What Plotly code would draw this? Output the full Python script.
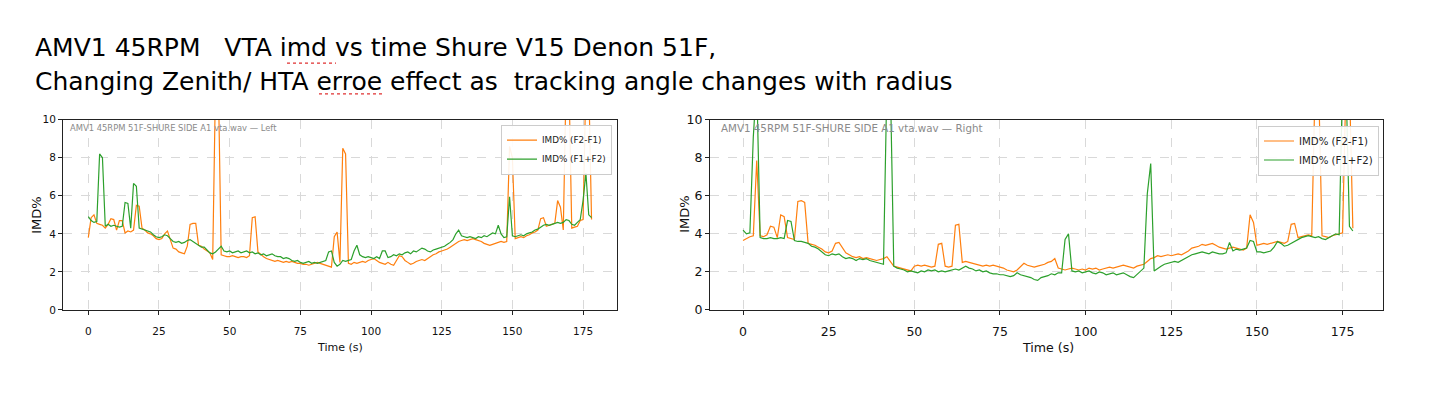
import plotly.graph_objects as go

# ---------------- data ----------------
TIME = list(range(179))  # seconds

LEFT_F2_F1 = [3.8, 4.85, 5.0, 4.55, 4.5, 4.45, 4.3, 4.5, 4.8, 4.75, 4.2, 4.7, 4.7, 4.05, 4.15, 4.1, 4.2, 5.5, 5.45, 4.3,
              4.2, 4.05, 4.0, 3.9, 3.75, 3.7, 3.75, 4.0, 4.15, 3.7, 3.25, 3.2, 3.05, 3.0, 2.95, 3.35, 4.5, 4.55, 4.55, 3.4,
              3.35, 3.2, 3.1, 3.0, 2.65, 12, 12, 2.9, 2.85, 2.8, 2.8, 2.85, 2.8, 2.75, 2.8, 2.8, 2.75, 2.85, 4.85, 4.9,
              3.05, 2.9, 2.8, 2.7, 2.65, 2.6, 2.55, 2.6, 2.55, 2.5, 2.55, 2.5, 2.55, 2.5, 2.45, 2.45, 2.4, 2.4, 2.35, 2.4,
              2.45, 2.5, 2.45, 2.4, 2.35, 2.3, 2.25, 3.85, 4.1, 2.5, 8.5, 8.2, 2.45, 2.4, 2.5, 2.45, 2.5, 2.55, 2.5, 2.6,
              2.65, 2.7, 2.6, 2.5, 2.45, 2.4, 2.5, 2.4, 2.35, 2.6, 2.85, 2.8, 2.6, 2.5, 2.4, 2.45, 2.55, 2.6, 2.65, 2.6,
              2.7, 2.8, 2.9, 2.95, 3.05, 3.1, 3.15, 3.2, 3.3, 3.4, 3.5, 3.6, 3.65, 3.7, 3.65, 3.7, 3.75, 3.7, 3.65, 3.6,
              3.5, 3.45, 3.4, 3.45, 3.5, 3.55, 3.6, 3.55, 3.6, 8.6, 8.0, 3.75, 3.8, 3.85, 3.8, 3.9, 3.95, 4.05, 4.1, 4.2,
              4.8, 4.85, 4.4, 4.45, 4.5, 4.55, 5.75, 5.4, 4.2, 12, 12, 4.3, 4.35, 4.4, 4.7, 4.75, 12, 12, 4.75]

LEFT_F1_F2 = [4.9, 4.7, 4.6, 4.65, 8.2, 8.0, 4.4, 4.5, 4.4, 4.45, 4.4, 4.35, 4.4, 5.65, 5.6, 4.3, 6.65, 6.5, 4.3, 4.25,
              4.2, 4.15, 4.1, 3.95, 3.85, 3.8, 3.85, 3.95, 3.9, 3.75, 3.6, 3.55, 3.6, 3.5, 3.55, 3.65, 3.7, 3.6, 3.5, 3.4,
              3.3, 3.3, 3.15, 3.0, 2.95, 3.05, 3.2, 3.35, 3.1, 3.05, 3.1, 3.0, 3.05, 3.1, 3.0, 3.05, 3.1, 3.0, 3.05, 2.95,
              3.0, 2.9, 2.95, 2.85, 2.9, 2.95, 2.85, 2.8, 2.8, 2.7, 2.75, 2.7, 2.6, 2.55, 2.6, 2.5, 2.45, 2.5, 2.55, 2.45,
              2.5, 2.45, 2.5, 2.55, 2.6, 3.05, 3.1, 2.5, 2.3, 2.4, 2.6, 2.55, 2.6, 2.65, 3.1, 3.4, 2.9, 2.8, 2.75, 2.8,
              2.75, 2.7, 2.8, 2.7, 3.1, 3.1, 2.75, 2.8, 2.9, 2.85, 2.95, 2.9, 3.0, 3.05, 2.95, 3.1, 3.05, 3.15, 3.25, 3.2,
              3.1, 3.05, 3.15, 3.2, 3.25, 3.3, 3.35, 3.45, 3.55, 3.7, 4.0, 4.2, 3.9, 3.85, 3.8, 3.85, 3.8, 3.75, 3.85, 3.8,
              3.9, 3.85, 3.95, 4.05, 4.0, 4.45, 4.0, 3.8, 3.85, 5.95, 3.9, 3.85, 3.9, 3.95, 3.9, 4.0, 4.05, 4.1, 4.2, 4.25,
              4.35, 4.45, 4.5, 4.45, 4.5, 4.55, 4.6, 4.55, 4.6, 4.75, 4.7, 4.5, 4.45, 4.6, 4.75, 5.75, 7.2, 5.0, 4.85]

RIGHT_F2_F1 = [3.65, 3.75, 3.85, 3.9, 7.85, 3.9, 3.85, 3.95, 4.4, 4.35, 3.8, 5.0, 4.9, 3.8, 3.75, 3.7, 5.7, 5.75, 5.65, 3.5,
               3.45, 3.4, 3.3, 3.2, 3.05, 3.0, 3.1, 3.5, 3.55, 3.3, 3.0, 2.9, 2.8, 2.75, 2.8, 2.7, 2.75, 2.7, 2.65, 2.6,
               2.65, 2.7, 2.8, 2.55, 2.3, 2.25, 2.2, 2.15, 2.1, 2.05, 2.3, 2.35, 2.3, 2.35, 2.3, 2.25, 2.3, 3.45, 3.5, 2.3,
               2.25, 2.3, 4.45, 4.5, 2.5, 2.55, 2.5, 2.45, 2.4, 2.35, 2.3, 2.35, 2.3, 2.35, 2.3, 2.25, 2.2, 2.1, 2.05, 2.0,
               2.1, 2.3, 2.45, 2.35, 2.3, 2.25, 2.3, 2.35, 2.4, 2.5, 2.55, 2.7, 2.2, 2.15, 2.1, 2.15, 2.2, 2.15, 2.1, 2.15,
               2.1, 2.2, 2.15, 2.2, 2.1, 2.15, 2.2, 2.25, 2.2, 2.25, 2.3, 2.35, 2.3, 2.25, 2.2, 2.3, 2.35, 2.4, 2.55, 2.7,
               2.75, 2.85, 2.8, 2.85, 2.9, 2.85, 2.9, 2.95, 2.9, 3.0, 3.1, 3.25, 3.3, 3.35, 3.45, 3.4, 3.45, 3.5, 3.4, 3.3,
               3.25, 3.2, 3.25, 3.3, 3.25, 3.2, 3.15, 3.25, 5.0, 4.6, 3.4, 3.45, 3.5, 3.45, 3.5, 3.55, 3.6, 3.55, 3.5, 3.6,
               4.5, 4.55, 3.8, 3.85, 3.9, 3.95, 3.9, 12, 12, 3.9, 3.85, 3.8, 3.9, 3.95, 4.0, 4.05, 12, 12, 4.3]

RIGHT_F1_F2 = [4.2, 4.0, 4.05, 9.1, 12, 3.8, 3.75, 3.75, 3.8, 3.75, 3.75, 3.8, 3.75, 4.7, 4.65, 3.65, 3.6, 3.6, 3.55, 3.5,
               3.35, 3.3, 3.2, 3.05, 2.9, 2.85, 2.95, 2.9, 2.95, 2.8, 2.7, 2.75, 2.7, 2.6, 2.7, 2.65, 2.7, 2.6, 2.55, 2.5,
               2.45, 2.4, 12, 12, 2.3, 2.2, 2.15, 2.1, 2.0, 2.05, 2.0, 1.95, 2.05, 2.0, 2.1, 2.05, 2.1, 2.0, 2.05, 2.0,
               2.05, 2.1, 2.15, 2.1, 2.2, 2.3, 2.2, 2.15, 2.05, 2.1, 2.0, 2.05, 1.95, 1.9, 1.9, 1.85, 1.85, 1.8, 1.75, 1.8,
               1.95, 1.85, 1.8, 1.75, 1.7, 1.6, 1.55, 1.7, 1.75, 1.8, 1.9, 1.85, 1.95, 1.95, 3.7, 4.0, 2.05, 2.0, 2.05, 1.95,
               2.0, 2.05, 1.95, 1.9, 2.0, 1.95, 1.85, 1.9, 1.95, 1.85, 1.9, 1.95, 1.85, 1.75, 1.7, 1.85, 2.0, 2.2, 6.1, 7.7,
               2.05, 2.2, 2.3, 2.4, 2.45, 2.5, 2.55, 2.5, 2.6, 2.7, 2.8, 2.9, 2.95, 3.0, 3.05, 3.0, 2.95, 3.05, 3.0, 2.95,
               2.95, 3.0, 3.55, 3.1, 3.2, 3.15, 3.2, 3.25, 3.65, 3.6, 3.05, 3.05, 3.0, 3.05, 3.1, 3.3, 3.6, 3.5, 3.35, 3.4,
               3.5, 3.6, 3.7, 3.8, 3.85, 3.9, 3.85, 3.8, 3.85, 3.75, 3.7, 3.8, 3.9, 4.0, 3.95, 12, 12, 4.4, 4.15]

X_TICKS = [0, 25, 50, 75, 100, 125, 150, 175]
Y_TICKS = [0, 2, 4, 6, 8, 10]
SERIES_NAMES = ["IMD% (F2-F1)", "IMD% (F1+F2)"]
TITLE_LINE1 = "AMV1 45RPM\u00a0\u00a0\u00a0VTA imd vs time Shure V15 Denon 51F,"
TITLE_LINE2 = "Changing Zenith/ HTA erroe effect as\u00a0\u00a0tracking angle changes with radius"
LEFT_LABEL = "AMV1 45RPM 51F-SHURE SIDE A1 vta.wav \u2014 Left"
RIGHT_LABEL = "AMV1 45RPM 51F-SHURE SIDE A1 vta.wav \u2014 Right"

# ---------------- styling ----------------
OFF = 8                      # page body margin
W, H = 1438 - 2 * OFF, 396 - 2 * OFF
ORANGE = "#ff7f0e"
GREEN = "#2ca02c"
MPL = "DejaVu Sans, sans-serif"
TITLE_FONT = "DejaVu Sans, sans-serif"


def px(x):
    return (x - OFF) / W


def py(y):
    return 1 - (y - OFF) / H


fig = go.Figure()

for name, ys, col, xa, ya, lg in [
    (SERIES_NAMES[0], LEFT_F2_F1, ORANGE, "x", "y", "legend"),
    (SERIES_NAMES[1], LEFT_F1_F2, GREEN, "x", "y", "legend"),
    (SERIES_NAMES[0], RIGHT_F2_F1, ORANGE, "x2", "y2", "legend2"),
    (SERIES_NAMES[1], RIGHT_F1_F2, GREEN, "x2", "y2", "legend2"),
]:
    fig.add_trace(go.Scatter(x=TIME, y=ys, mode="lines", name=name,
                             line=dict(color=col, width=1.2),
                             xaxis=xa, yaxis=ya, legend=lg))

axis_common = dict(showgrid=True, gridcolor="#d9d9d9", griddash="dash", gridwidth=0.8,
                   zeroline=False, showline=True, linecolor="#222222", linewidth=1, mirror=True,
                   ticks="outside", ticklen=4, tickcolor="#222222", tickwidth=1)

ydom = [py(314), py(116)]
fig.update_layout(
    width=W, height=H, margin=dict(l=0, r=0, t=0, b=0),
    paper_bgcolor="white", plot_bgcolor="white", showlegend=True,
    xaxis=dict(domain=[px(63), px(617)], range=[-8.95, 187], anchor="y", tickvals=X_TICKS,
               ticklabelstandoff=7, tickfont=dict(family=MPL, size=10.5, color="#111"), **axis_common),
    yaxis=dict(domain=ydom, range=[0, 10], anchor="x", tickvals=Y_TICKS,
               tickfont=dict(family=MPL, size=10.5, color="#111"), **axis_common),
    xaxis2=dict(domain=[px(710), px(1383)], range=[-9.64, 186.8], anchor="y2", tickvals=X_TICKS,
                ticklabelstandoff=6, tickfont=dict(family=MPL, size=12.5, color="#111"), **axis_common),
    yaxis2=dict(domain=ydom, range=[0, 10], anchor="x2", tickvals=Y_TICKS,
                tickfont=dict(family=MPL, size=12.5, color="#111"), **axis_common),
    legend=dict(x=px(612), y=py(121), xanchor="right", yanchor="top",
                bgcolor="rgba(255,255,255,0.9)", bordercolor="#cccccc", borderwidth=1,
                font=dict(family=MPL, size=8.8, color="#222"), itemwidth=30, tracegroupgap=0),
    legend2=dict(x=px(1379), y=py(122), xanchor="right", yanchor="top",
                 bgcolor="rgba(255,255,255,0.9)", bordercolor="#cccccc", borderwidth=1,
                 font=dict(family=MPL, size=10.2, color="#222"), itemwidth=30, tracegroupgap=0),
)

ann = [
    dict(text=TITLE_LINE1, x=px(33), y=py(41), xanchor="left", yanchor="middle",
         font=dict(family=TITLE_FONT, size=25, color="black")),
    dict(text=TITLE_LINE2, x=px(33), y=py(76), xanchor="left", yanchor="middle",
         font=dict(family=TITLE_FONT, size=25, color="black")),
    dict(text=LEFT_LABEL, x=px(68), y=py(125), xanchor="left", yanchor="middle",
         font=dict(family=MPL, size=8.4, color="#8a8a8a")),
    dict(text=RIGHT_LABEL, x=px(719), y=py(125), xanchor="left", yanchor="middle",
         font=dict(family=MPL, size=10.3, color="#8a8a8a")),
    dict(text="IMD%", x=px(37), y=py(215), xanchor="center", yanchor="middle", textangle=-90,
         font=dict(family=MPL, size=13, color="#111")),
    dict(text="IMD%", x=px(685), y=py(215), xanchor="center", yanchor="middle", textangle=-90,
         font=dict(family=MPL, size=13, color="#111")),
    dict(text="Time (s)", x=px(340), y=py(353), xanchor="center", yanchor="middle",
         font=dict(family=MPL, size=11, color="#111")),
    dict(text="Time (s)", x=px(1048), y=py(353), xanchor="center", yanchor="middle",
         font=dict(family=MPL, size=12.6, color="#111")),
]
for a in ann:
    a.update(xref="paper", yref="paper", showarrow=False)
fig.update_layout(annotations=ann)

# spell-check squiggles under "imd" and "erroe" in the pasted title
for x0, x1, y in [(287, 336, 57), (319, 385, 89)]:
    fig.add_shape(type="line", xref="paper", yref="paper", x0=px(x0), x1=px(x1), y0=py(y), y1=py(y),
                  line=dict(color="#e03030", width=1.2, dash="dot"))

fig.write_html("out.html")
